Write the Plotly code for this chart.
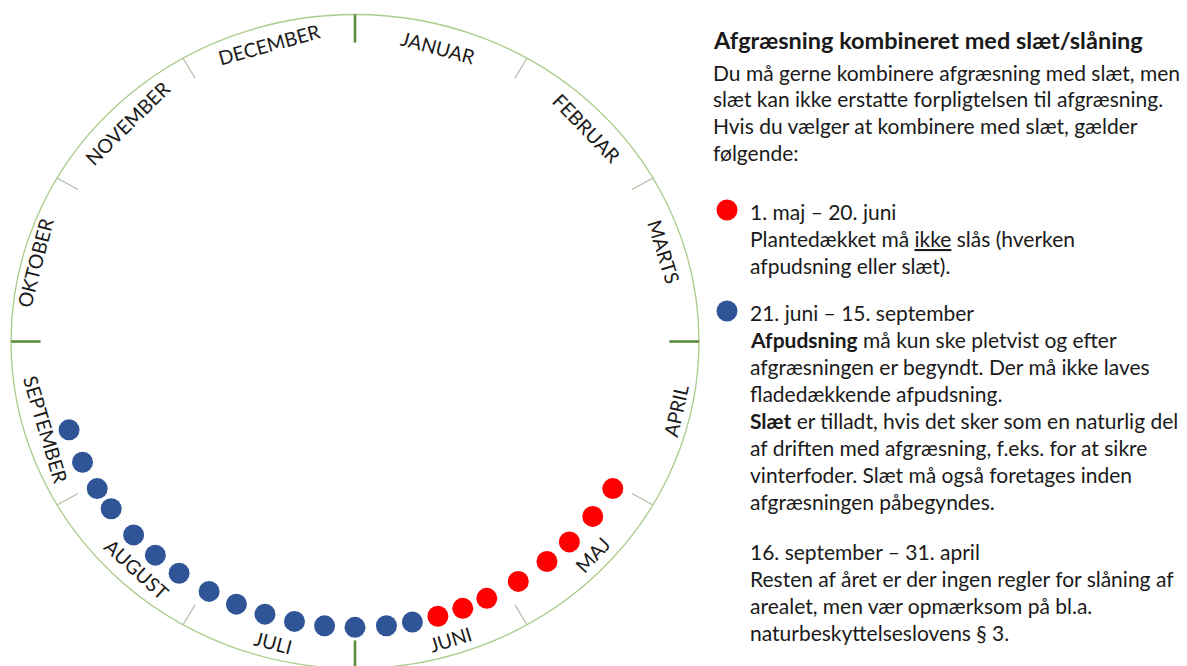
import math
import plotly.graph_objects as go

# ---------------- data ----------------
months = ["JANUAR", "FEBRUAR", "MARTS", "APRIL", "MAJ", "JUNI",
          "JULI", "AUGUST", "SEPTEMBER", "OKTOBER", "NOVEMBER", "DECEMBER"]
days_in_month = [31, 28, 31, 30, 31, 30, 31, 31, 30, 31, 30, 31]

# red dots: 1. maj - 20. juni (month number, day)
red_months = [5, 5, 5, 5, 5, 6, 6, 6]
red_days = [2, 9, 16, 22, 29, 5, 10, 15]
# blue dots: 21. juni - 15. september
blue_months = [6, 6, 7, 7, 7, 7, 7, 7, 8, 8, 8, 8, 8, 9, 9]
blue_days = [20, 25, 1, 7, 13, 19, 25, 31, 7, 13, 19, 26, 31, 6, 13]

title_text = "<b>Afgræsning kombineret med slæt/slåning</b>"
intro_lines = ["Du må gerne kombinere afgræsning med slæt, men",
               "slæt kan ikke erstatte forpligtelsen til afgræsning.",
               "Hvis du vælger at kombinere med slæt, gælder",
               "følgende:"]
red_lines = ["1. maj – 20. juni",
             "Plantedækket må <u>ikke</u> slås (hverken",
             "afpudsning eller slæt)."]
blue_lines = ["21. juni – 15. september",
              "<b>Afpudsning</b> må kun ske pletvist og efter",
              "afgræsningen er begyndt. Der må ikke laves",
              "fladedækkende afpudsning.",
              "<b>Slæt</b> er tilladt, hvis det sker som en naturlig del",
              "af driften med afgræsning, f.eks. for at sikre",
              "vinterfoder. Slæt må også foretages inden",
              "afgræsningen påbegyndes."]
rest_lines = ["16. september – 31. april",
              "Resten af året er der ingen regler for slåning af",
              "arealet, men vær opmærksom på bl.a.",
              "naturbeskyttelseslovens § 3."]

# ---------------- layout / geometry ----------------
W, H = 1187, 666
CX, CY = 355, 341.5          # circle centre in pixels
RX, RY = 344, 327            # pixel radii (x / y)
x_range = [-CX / RX, (W - CX) / RX]
y_range = [(CY - H) / RY, CY / RY]

# label placement (angle clockwise from top, radius) – layout only
label_angle = [15, 46, 72.9, 102.7, 133.3, 163.1, 194.5, 222.3, 253.4, 284.6, 315.4, 344.6]
label_radius = [0.93, 0.937, 0.94, 0.956, 0.951, 0.951, 0.952, 0.941, 0.937, 0.961, 0.939, 0.941]


def angle_of(m, d):
    """clockwise angle from top, degrees (each month = 30 deg)"""
    return 30 * (m - 1) + 30 * (d - 1) / days_in_month[m - 1]


def polar_xy(theta, r):
    t = math.radians(theta)
    return r * math.sin(t), r * math.cos(t)


def px_to_data(px, py):
    return (px - CX) / RX, (CY - py) / RY


FONT = "Lato, 'Open Sans', sans-serif"
TEXT_COL = "#1a1a1a"
RED = "#ff0000"
BLUE = "#2f5597"

fig = go.Figure()

# dots
DOT_R = 0.874
for mlist, dlist, col in [(red_months, red_days, RED), (blue_months, blue_days, BLUE)]:
    xs, ys = [], []
    for m, d in zip(mlist, dlist):
        x, y = polar_xy(angle_of(m, d), DOT_R)
        xs.append(x)
        ys.append(y)
    fig.add_trace(go.Scatter(x=xs, y=ys, mode="markers",
                             marker=dict(size=21, color=col, line=dict(width=0)),
                             hoverinfo="skip", showlegend=False))

shapes = []
# outer circle
shapes.append(dict(type="circle", xref="x", yref="y", x0=-1, x1=1, y0=-1, y1=1,
                   line=dict(color="#a9cc8c", width=1.3), layer="below"))
# ticks
for k in range(12):
    th = 30 * k
    major = (k % 3 == 0)
    r_in = 0.914 if major else 0.93
    x0, y0 = polar_xy(th, r_in)
    x1, y1 = polar_xy(th, 1.0)
    shapes.append(dict(type="line", xref="x", yref="y", x0=x0, y0=y0, x1=x1, y1=y1,
                       line=dict(color="#5b8c3a" if major else "#b3bca6",
                                 width=2.6 if major else 1.2)))

annotations = []
# month labels
for i, name in enumerate(months):
    th = label_angle[i]
    x, y = polar_xy(th, label_radius[i])
    rot = th if (th < 90 or th > 270) else th - 180
    if rot > 180:
        rot -= 360
    annotations.append(dict(x=x, y=y, xref="x", yref="y", text=name, showarrow=False,
                            textangle=rot, xanchor="center", yanchor="middle",
                            font=dict(family=FONT, size=19.5, color=TEXT_COL)))


def add_line(text, px, py, size=21):
    x, y = px_to_data(px, py)
    annotations.append(dict(x=x, y=y, xref="x", yref="y", text=text, showarrow=False,
                            xanchor="left", yanchor="middle",
                            font=dict(family=FONT, size=size, color=TEXT_COL)))


add_line(title_text, 711, 40, size=23.5)
for i, t in enumerate(intro_lines):
    add_line(t, 711, 72 + 26.7 * i)
for i, t in enumerate(red_lines):
    add_line(t, 748, 211 + 27 * i)
for i, t in enumerate(blue_lines):
    add_line(t, 748, 312 + 27.1 * i)
for i, t in enumerate(rest_lines):
    add_line(t, 748, 551 + 27 * i)

# legend dots (decorative, pixel-sized)
for py, col in [(210, RED), (311, BLUE)]:
    x, y = px_to_data(727, py)
    shapes.append(dict(type="circle", xref="x", yref="y", xsizemode="pixel", ysizemode="pixel",
                       xanchor=x, yanchor=y, x0=-10.5, x1=10.5, y0=-10.5, y1=10.5,
                       fillcolor=col, line=dict(width=0)))

fig.update_layout(
    width=W, height=H, margin=dict(l=0, r=0, t=0, b=0),
    paper_bgcolor="white", plot_bgcolor="white",
    xaxis=dict(range=x_range, visible=False, fixedrange=True),
    yaxis=dict(range=y_range, visible=False, fixedrange=True),
    shapes=shapes, annotations=annotations, showlegend=False,
)

fig.write_html("out.html", config={"displayModeBar": False},
               post_script="document.body.style.margin='0';document.body.style.overflow='hidden';")
